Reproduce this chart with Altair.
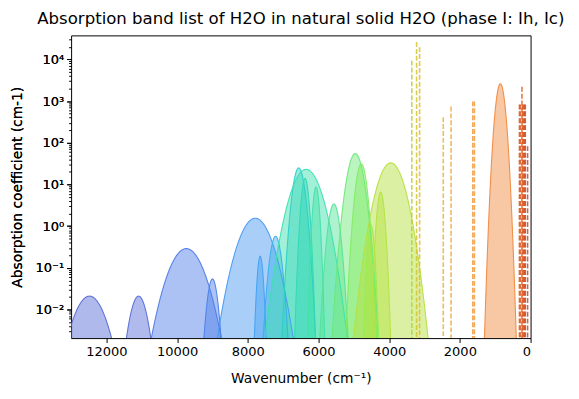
import altair as alt
import numpy as np
import pandas as pd

# ---------------- data ----------------
# broad (Gaussian) bands: centre wavenumber (cm-1), peak absorption (cm-1), sigma (cm-1)
broad_center = [12480, 11090, 9740, 9000, 7790, 7650, 7215, 6560, 6350, 6380, 6070,
                5565, 4960, 4790, 4515, 4240, 3955, 855]
broad_peak = [0.021, 0.021, 0.29, 0.054, 1.55, 0.19, 0.57, 25, 23, 14, 8.7,
              3.4, 55, 31, 1.07, 6.5, 33, 2600]
broad_sigma = [290, 160, 315, 95, 295, 55, 105, 110, 270, 70, 60,
               104, 146, 100, 60, 70, 240, 85]
broad_color = ["#5a6cd6", "#5a6fd8", "#517de9", "#4f82ea", "#4b9bf3", "#45a2f2",
               "#3cb0ea", "#2fcfc8", "#3ee0b0", "#34d8b8", "#45e2a8", "#55e39a",
               "#6ee87a", "#82ec62", "#9aec50", "#b4e445", "#b5e040", "#f08a40"]

# narrow bands (drawn as dashed lines): centre wavenumber, peak absorption
narrow_center = [3360, 3225, 3140, 2470, 2250, 1635, 1590, 315, 290, 244, 229, 200, 170, 150, 84]
narrow_peak = [9300, 26000, 19600, 410, 740, 980, 980, 830, 830, 2200, 830, 830, 830, 830, 83]
narrow_color = ["#b8d030", "#d4c432", "#d8c030", "#eab040", "#eeaa40", "#f09a40", "#f09a40",
                "#dc5a20", "#dc5a20", "#e0602a", "#dc5a20", "#d85020", "#d85020", "#d04a20", "#c04a30"]

y_ticks = [1e-2, 1e-1, 1e0, 1e1, 1e2, 1e3, 1e4]
x_ticks = [0, 2000, 4000, 6000, 8000, 10000, 12000]

YMIN, YMAX = 2.07e-3, 3.76e4
XMIN, XMAX = 0, 13000
FLOOR = 1e-6
FILL_ALPHA = 0.48

# ---------------- build tables ----------------
rows = []
bnames = []
for i, (c, a, s) in enumerate(zip(broad_center, broad_peak, broad_sigma)):
    name = f"b{i:02d}"
    bnames.append(name)
    xs = np.linspace(c - 7 * s, c + 7 * s, 300)
    vs = a * np.exp(-0.5 * ((xs - c) / s) ** 2)
    for x, v in zip(xs, vs):
        rows.append({"band": name, "wn": float(x), "v": float(max(v, FLOOR)), "base": FLOOR})
broad_df = pd.DataFrame(rows)

nnames = [f"n{i:02d}" for i in range(len(narrow_center))]
narrow_df = pd.DataFrame({"band": nnames, "wn": narrow_center, "v": narrow_peak,
                          "base": [YMIN] * len(nnames)})

all_names = bnames + nnames
all_colors = broad_color + narrow_color
cscale = alt.Scale(domain=all_names, range=all_colors)

xscale = alt.Scale(domain=[XMIN, XMAX], reverse=True, nice=False, zero=False)
yscale = alt.Scale(type="log", domain=[YMIN, YMAX], nice=False)

sup = {-2: "10⁻²", -1: "10⁻¹", 0: "10⁰", 1: "10¹", 2: "10²", 3: "10³", 4: "10⁴"}
expr = "''"
for k, lab in sup.items():
    expr = f"round(log(datum.value)/LN10) == {k} ? '{lab}' : (" + expr + ")"

minor = [m * 10.0 ** k for k in range(-3, 5) for m in range(2, 10) if YMIN <= m * 10.0 ** k <= YMAX]

x_axis = alt.Axis(values=x_ticks, title="Wavenumber (cm⁻¹)", format="d", tickSize=4.5,
                  labelPadding=3, titlePadding=14, domain=False, grid=False)
y_axis = alt.Axis(values=y_ticks, labelExpr=expr, title="Absorption coefficient (cm-1)",
                  tickSize=4.5, labelPadding=3, titlePadding=11, domain=False, grid=False,
                  orient="left")
y_minor_axis = alt.Axis(values=minor, labels=False, title=None, tickSize=2.5,
                        domain=False, grid=False, orient="left")

base = alt.Chart(broad_df)

areas = base.mark_area(clip=True, fillOpacity=FILL_ALPHA, strokeWidth=0).encode(
    x=alt.X("wn:Q", scale=xscale, axis=x_axis),
    y=alt.Y("v:Q", scale=yscale, axis=y_axis),
    y2="base:Q",
    color=alt.Color("band:N", scale=cscale, legend=None),
)

edges = base.mark_line(clip=True, strokeWidth=1.1, opacity=0.95).encode(
    x=alt.X("wn:Q", scale=xscale, axis=x_axis),
    y=alt.Y("v:Q", scale=yscale, axis=y_axis),
    color=alt.Color("band:N", scale=cscale, legend=None),
)

rules = alt.Chart(narrow_df).mark_rule(clip=True, strokeDash=[5, 2], strokeWidth=1.6,
                                       opacity=0.85).encode(
    x=alt.X("wn:Q", scale=xscale, axis=x_axis),
    y=alt.Y("v:Q", scale=yscale, axis=y_minor_axis),
    y2="base:Q",
    color=alt.Color("band:N", scale=cscale, legend=None),
)

chart = alt.layer(areas, edges, rules).resolve_scale(
    y="shared", x="shared"
).resolve_axis(y="independent").properties(
    width=466, height=307,
    title=alt.TitleParams("Absorption band list of H2O in natural solid H2O (phase I: Ih, Ic)",
                          fontSize=16.8, font="DejaVu Sans", fontWeight="normal",
                          color="black", anchor="middle", offset=8),
    autosize=alt.AutoSizeParams(type="none"),
    padding={"left": 64, "top": 25, "right": 41, "bottom": 59},
).configure_view(stroke="black", strokeWidth=1).configure_axis(
    labelFont="DejaVu Sans", titleFont="DejaVu Sans", labelFontSize=13.2, titleFontSize=14,
    labelColor="black", titleColor="black", tickColor="black", titleFontWeight="normal",
)

chart.save("out.html", embed_options={"renderer": "svg", "actions": False})
